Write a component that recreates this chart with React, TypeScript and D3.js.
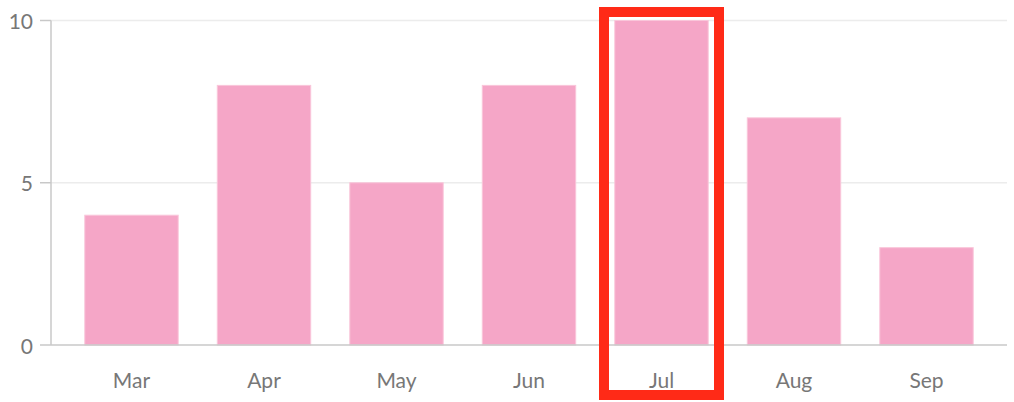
import React from "react";
import * as d3 from "d3";

const categories = ["Mar", "Apr", "May", "Jun", "Jul", "Aug", "Sep"];
const values = [4, 8, 5, 8, 10, 7, 3];
const yTicks = [0, 5, 10];
const highlighted = "Jul";

const W = 1014;
const H = 402;
const left = 51;
const right = 1007;
const top = 20.5;
const bottom = 345;

export default function App() {
  const x = d3
    .scaleBand<string>()
    .domain(categories)
    .range([left, right])
    .paddingInner(0.295)
    .paddingOuter(0.255);
  const y = d3.scaleLinear().domain([0, 10]).range([bottom, top]);
  const font = "Lato, 'Noto Sans', sans-serif";
  const hx = x(highlighted)!;
  const bw = x.bandwidth();
  return (
    <svg
      width={W}
      height={H}
      style={{ position: "absolute", left: 0, top: 0, background: "#fff" }}
    >
      {yTicks.map((t) => (
        <g key={t}>
          {t > 0 && (
            <line x1={left} x2={right} y1={y(t)} y2={y(t)} stroke="#ececec" strokeWidth={1.5} />
          )}
          <line x1={40} x2={left} y1={y(t)} y2={y(t)} stroke="#c8c8c8" strokeWidth={1.5} />
          <text
            x={33}
            y={y(t)}
            textAnchor="end"
            dominantBaseline="central"
            fill="#777"
            fontSize={21}
            fontFamily={font}
          >
            {t}
          </text>
        </g>
      ))}
      {categories.map((c, i) => (
        <rect
          key={c}
          x={x(c)}
          y={y(values[i])}
          width={bw}
          height={y(0) - y(values[i])}
          fill="#f5a6c7"
          stroke="#f9c6da"
          strokeWidth={1}
        />
      ))}
      <line x1={left} x2={left} y1={top} y2={bottom} stroke="#c8c8c8" strokeWidth={1.5} />
      <line x1={left} x2={right} y1={bottom} y2={bottom} stroke="#c8c8c8" strokeWidth={1.5} />
      {categories.map((c) => (
        <text
          key={c}
          x={x(c)! + bw / 2}
          y={388}
          textAnchor="middle"
          fill="#777"
          fontSize={21}
          fontFamily={font}
        >
          {c}
        </text>
      ))}
      <rect
        x={hx + bw / 2 - 57.5}
        y={12}
        width={115}
        height={383}
        fill="none"
        stroke="#ff2a17"
        strokeWidth={10}
      />
    </svg>
  );
}
